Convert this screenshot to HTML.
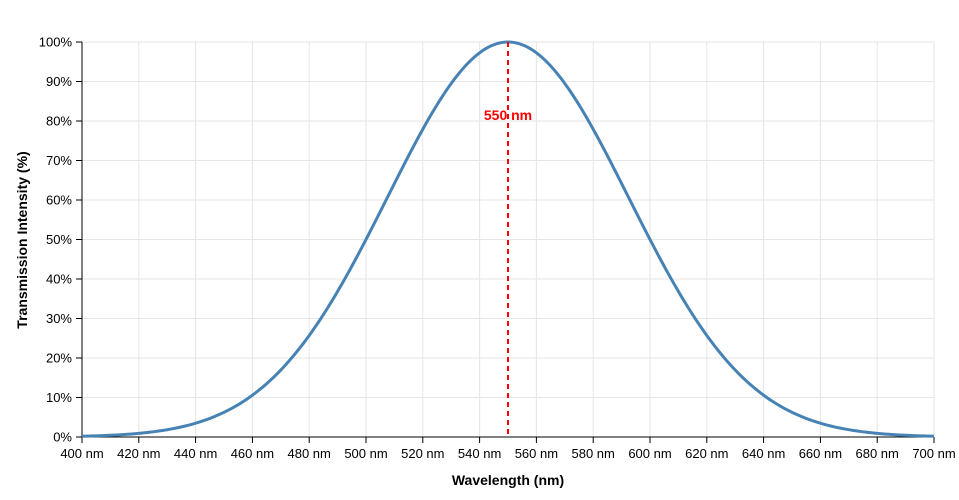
<!DOCTYPE html>
<html><head><meta charset="utf-8"><style>
html,body{margin:0;padding:0;background:#fff;}
svg{display:block;font-family:"Liberation Sans",Arial,sans-serif;}
</style></head><body>
<svg id="s" width="959" height="500" viewBox="0 0 959 500">
<g id="grid" stroke="#e6e6e6" stroke-width="1"></g>
<g id="axes"></g>
<path id="curve" fill="none" stroke="#4682b4" stroke-width="3"></path>
<line x1="508" y1="42" x2="508" y2="437" stroke="#ff0000" stroke-width="2" stroke-dasharray="5,4"/>
<text x="508" y="120" fill="#ff0000" font-size="14" font-weight="bold" text-anchor="middle">550 nm</text>
<text x="508" y="485" font-size="14" font-weight="bold" text-anchor="middle">Wavelength (nm)</text>
<text transform="translate(27,240) rotate(-90)" font-size="14" font-weight="bold" text-anchor="middle">Transmission Intensity (%)</text>
</svg>
<script>
var ns="http://www.w3.org/2000/svg";
function X(n){return 82+(n-400)*852/300;}
function Y(p){return 437-p*3.95;}
var g=document.getElementById('grid'),a=document.getElementById('axes');
function el(p,t,at){var e=document.createElementNS(ns,t);for(var k in at)e.setAttribute(k,at[k]);p.appendChild(e);return e;}
for(var n=400;n<=700;n+=20){var x=X(n);
 if(n>400)el(g,'line',{x1:x,y1:42,x2:x,y2:437});
 el(a,'line',{x1:x,y1:437,x2:x,y2:443,stroke:'#000'});
 var t=el(a,'text',{x:x,y:458,'font-size':13,'text-anchor':'middle',fill:'#000'});t.textContent=n+' nm';}
for(var p=0;p<=100;p+=10){var y=Y(p);
 if(p>0)el(g,'line',{x1:82,y1:y,x2:934,y2:y});
 el(a,'line',{x1:76,y1:y,x2:82,y2:y,stroke:'#000'});
 var t=el(a,'text',{x:72,y:y+4.5,'font-size':13,'text-anchor':'end',fill:'#000'});t.textContent=p+'%';}
el(a,'line',{x1:82,y1:42,x2:82,y2:437,stroke:'#000'});
el(a,'line',{x1:82,y1:437,x2:934,y2:437,stroke:'#000'});
var s=50/Math.sqrt(2*Math.log(2)),d='';
for(var n=400;n<=700;n+=1){var v=100*Math.exp(-Math.pow(n-550,2)/(2*s*s));d+=(n==400?'M':'L')+X(n).toFixed(2)+','+Y(v).toFixed(2);}
document.getElementById('curve').setAttribute('d',d);
</script>
</body></html>
